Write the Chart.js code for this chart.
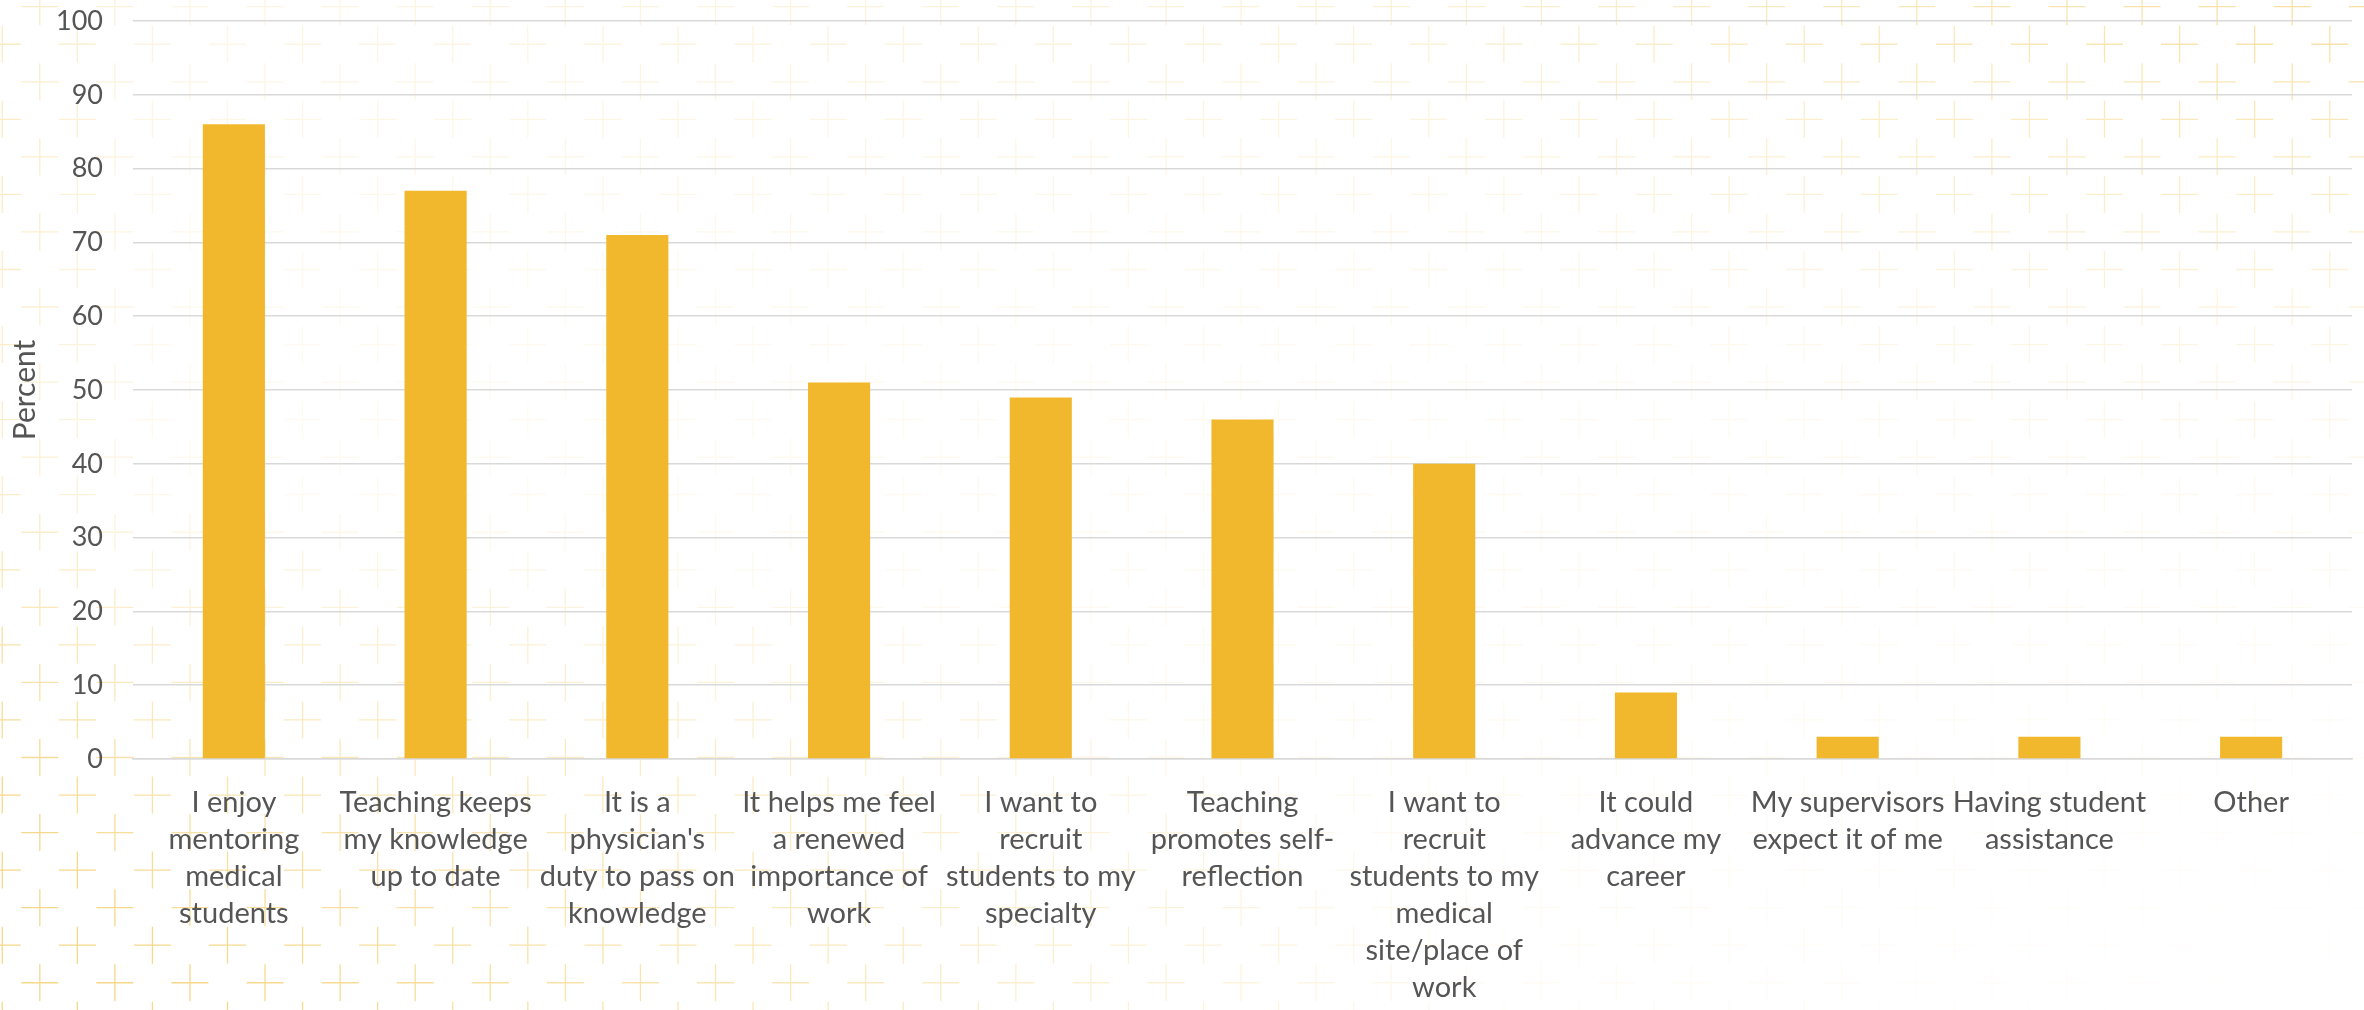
<!DOCTYPE html>
<html>
<head>
<meta charset="utf-8">
<script src="https://cdn.jsdelivr.net/npm/chart.js@4/dist/chart.umd.min.js"></script>
<style>
  html, body { margin: 0; padding: 0; background: #ffffff; }
  #wrap { width: 2364px; height: 1010px; }
</style>
</head>
<body>
<div id="wrap"><canvas id="c" width="2364" height="1010"></canvas></div>
<script>
// ---- Data ----
const categories = [
  ["I enjoy", "mentoring", "medical", "students"],
  ["Teaching keeps", "my knowledge", "up to date"],
  ["It is a", "physician's", "duty to pass on", "knowledge"],
  ["It helps me feel", "a renewed", "importance of", "work"],
  ["I want to", "recruit", "students to my", "specialty"],
  ["Teaching", "promotes self-", "reflection"],
  ["I want to", "recruit", "students to my", "medical", "site/place of", "work"],
  ["It could", "advance my", "career"],
  ["My supervisors", "expect it of me"],
  ["Having student", "assistance"],
  ["Other"]
];
const percentValues = [86, 77, 71, 51, 49, 46, 40, 9, 3, 3, 3];
const yAxisTitle = "Percent";
const yMin = 0;
const yMax = 100;
const yStep = 10;

// ---- Background pattern (decorative) ----
function alphaAt(x, y, W, H) {
  const u = x / W, v = y / H;
  const bl = Math.max(0, 1 - Math.hypot(u * 1.0, (1 - v) * 1.2) / 0.62);
  const top = Math.max(0, 1 - v / 0.3) * (0.3 + 0.7 * u);
  const tr = Math.max(0, 1 - Math.hypot((1 - u) * 1.2, v) / 0.5);
  const left = Math.max(0, 1 - u / 0.07);
  const br = Math.max(0, 1 - Math.hypot((1 - u) * 1.1, (1 - v) * 1.0) / 0.5);
  let a = 0.08 + 0.58 * bl + 0.18 * top + 0.22 * tr + 0.18 * left;
  a *= (1 - br);
  return Math.min(0.58, a);
}
const bgPattern = {
  id: 'bgPattern',
  beforeDraw(chart) {
    const ctx = chart.ctx, W = chart.width, H = chart.height;
    ctx.save();
    ctx.fillStyle = '#ffffff';
    ctx.fillRect(0, 0, W, H);
    const step = 75.08, arm = 18.5, half = step / 2;
    ctx.lineWidth = 1.3;
    for (let row = -1; 6.7 + row * half < H + step; row++) {
      const y = 6.7 + row * half;
      const xo = (Math.abs(row) % 2 === 0) ? 39.8 : 39.8 + half;
      for (let x = xo - step; x < W + step; x += step) {
        const a = alphaAt(x, y, W, H);
        if (a <= 0.01) continue;
        ctx.strokeStyle = 'rgba(240,188,55,' + a.toFixed(3) + ')';
        ctx.beginPath();
        ctx.moveTo(x - arm, y); ctx.lineTo(x + arm, y);
        ctx.moveTo(x, y - arm); ctx.lineTo(x, y + arm);
        ctx.stroke();
      }
    }
    ctx.restore();
  }
};

const textColor = '#555555';
const gridColor = '#d9d9d9';

new Chart(document.getElementById('c'), {
  type: 'bar',
  data: {
    labels: categories,
    datasets: [{
      data: percentValues,
      backgroundColor: '#F1B82D',
      borderWidth: 0,
      barPercentage: 0.308,
      categoryPercentage: 1.0
    }]
  },
  options: {
    responsive: false,
    animation: false,
    devicePixelRatio: 1,
    layout: { padding: { top: 21, right: 12, left: 0, bottom: 0 } },
    plugins: {
      legend: { display: false },
      tooltip: { enabled: false }
    },
    scales: {
      x: {
        afterFit(scale) { scale.height = 251; scale.paddingLeft = 0; scale.paddingRight = 0; },
        grid: { display: false, drawTicks: false },
        border: { display: true, color: gridColor, width: 1.5 },
        ticks: {
          color: textColor,
          font: { family: 'Lato', size: 29, lineHeight: '37px' },
          padding: 25,
          maxRotation: 0,
          minRotation: 0,
          autoSkip: false
        }
      },
      y: {
        min: yMin,
        max: yMax,
        afterFit(scale) { scale.width = 133; scale.paddingTop = 0; scale.paddingBottom = 0; },
        grid: { color: gridColor, lineWidth: 1.5, drawTicks: false },
        border: { display: false },
        ticks: {
          stepSize: yStep,
          color: textColor,
          font: { family: 'Lato', size: 27 },
          padding: 30
        },
        title: {
          display: true,
          text: yAxisTitle,
          color: textColor,
          font: { family: 'Lato', size: 30 },
          padding: { top: 7, bottom: 0 }
        }
      }
    }
  },
  plugins: [bgPattern]
});
</script>
</body>
</html>
